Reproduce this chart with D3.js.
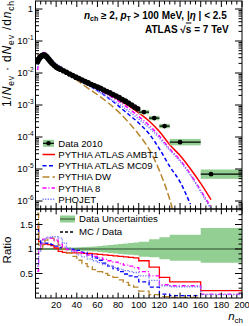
<!DOCTYPE html>
<html><head><meta charset="utf-8">
<script src="https://cdn.jsdelivr.net/npm/d3@7"></script>
<style>body{margin:0;background:#fff}svg{display:block;font-family:"Liberation Sans",Arial,sans-serif}</style>
</head><body>
<script>
// ---------- data ----------
const dataNch = [2,3,4,5,6,7,8,9,10,11,12,13,14,15,16,18,20,22,24,27,30,33,36,39,42,45,48,51,54,57,60,63,66,69,72,75,78,81,84,87,90,93,96,99];
const dataVal = [0.0224,0.0263,0.0295,0.0324,0.0347,0.0355,0.0363,0.0355,0.0339,0.0316,0.0288,0.0263,0.0240,0.0219,0.0200,0.0174,0.0155,0.0141,0.0132,0.0117,0.0105,0.00933,0.00832,0.00741,0.00676,0.00603,0.00537,0.00490,0.00437,0.00398,0.00363,0.00331,0.00295,0.00263,0.00240,0.00214,0.00191,0.00170,0.00148,0.00132,0.00115,0.00100,0.00087,0.00076];
const wideLo  = [100,110,120,130,160];
const wideHi  = [110,120,130,160,200];
const wideNch = [105,115,125,140,170];
const wideVal = [6.0e-4,3.9e-4,2.2e-4,6.9e-5,6.9e-6];
const wideErr = [0.17,0.17,0.17,0.26,0.40];

const mcNch = [2,4,6,8,10,13,16,20,25,30,40,50,60,70,80,90,100,110,120,130,140,150,160,170];
const mcAMBT1 = [3.24e-2,3.39e-2,3.80e-2,3.98e-2,3.72e-2,2.88e-2,2.14e-2,1.58e-2,1.20e-2,9.77e-3,6.46e-3,4.57e-3,3.24e-3,2.24e-3,1.51e-3,9.55e-4,5.62e-4,3.16e-4,1.48e-4,5.75e-5,2.63e-5,1.02e-5,3.55e-6,1.1e-6];
const mcMC09  = [3.39e-2,3.47e-2,3.89e-2,4.07e-2,3.80e-2,2.88e-2,2.19e-2,1.62e-2,1.29e-2,1.05e-2,6.92e-3,4.47e-3,2.82e-3,1.70e-3,9.55e-4,5.13e-4,2.75e-4,1.26e-4,4.27e-5,1.20e-5,3.98e-6,7.9e-7,null,null];
const mcDW    = [3.89e-2,3.24e-2,3.47e-2,3.98e-2,3.98e-2,3.24e-2,2.45e-2,1.78e-2,1.35e-2,1.05e-2,6.03e-3,3.47e-3,2.09e-3,1.20e-3,6.31e-4,2.88e-4,1.20e-4,4.17e-5,8.9e-6,1.12e-6,6e-8,null,null,null];
const mcPY8   = [1.23e-2,2.95e-2,3.89e-2,4.37e-2,4.17e-2,3.24e-2,2.45e-2,1.82e-2,1.38e-2,1.10e-2,6.92e-3,4.68e-3,3.16e-3,2.09e-3,1.35e-3,7.94e-4,4.37e-4,2.34e-4,1.07e-4,4.27e-5,1.91e-5,6.92e-6,2.14e-6,6.3e-7];
const mcPHO   = [1.45e-2,2.82e-2,3.72e-2,4.17e-2,4.07e-2,3.24e-2,2.51e-2,1.95e-2,1.55e-2,1.15e-2,6.76e-3,4.27e-3,2.75e-3,1.74e-3,1.10e-3,6.46e-4,3.63e-4,1.95e-4,9.33e-5,3.89e-5,1.74e-5,6.46e-6,1.95e-6,5.6e-7];

const rEdges = [1.5,3,5,7,9,12,15,18,22,26,30,35,40,45,50,55,60,65,70,75,80,85,90,95,100,110,120,130,160,200];
const rAMBT1 = [1.45,1.15,1.10,1.10,1.10,1.09,1.07,1.02,0.95,0.93,0.92,0.92,0.92,0.91,0.91,0.90,0.89,0.88,0.87,0.86,0.85,0.84,0.83,0.82,0.76,0.63,0.42,0.33,0.15];
const rMC09  = [1.50,1.18,1.12,1.12,1.12,1.11,1.09,1.06,1.03,1.01,1.00,0.99,0.97,0.93,0.88,0.82,0.77,0.71,0.65,0.60,0.54,0.49,0.45,0.43,0.33,0.22,0.08,0.05,null];
const rDW    = [1.73,1.08,1.00,1.08,1.18,1.22,1.22,1.15,1.08,1.00,0.92,0.85,0.77,0.70,0.64,0.58,0.54,0.50,0.46,0.42,0.37,0.32,0.26,0.22,0.14,0.07,0.03,0.01,null];
const rPY8   = [0.55,1.00,1.12,1.20,1.22,1.22,1.22,1.18,1.10,1.04,0.99,0.96,0.93,0.91,0.88,0.85,0.82,0.79,0.76,0.73,0.70,0.67,0.65,0.62,0.54,0.45,0.27,0.25,0.08];
const rPHO   = [0.65,0.95,1.10,1.18,1.22,1.24,1.25,1.25,1.22,1.12,1.02,0.95,0.88,0.84,0.80,0.76,0.72,0.68,0.65,0.62,0.59,0.56,0.54,0.52,0.45,0.36,0.25,0.23,0.07];
const bandHi = [1.03,1.02,1.02,1.02,1.02,1.02,1.02,1.02,1.02,1.025,1.03,1.03,1.035,1.04,1.045,1.05,1.06,1.07,1.08,1.09,1.10,1.11,1.12,1.13,1.15,1.20,1.24,1.29,1.43];
const bandLo = [0.97,0.98,0.98,0.98,0.98,0.98,0.98,0.98,0.98,0.975,0.97,0.97,0.965,0.96,0.955,0.95,0.94,0.93,0.92,0.91,0.90,0.89,0.88,0.87,0.84,0.83,0.79,0.76,0.72];

const xTicks = [20,40,60,80,100,120,140,160,180,200];
const yExp = [0,-1,-2,-3,-4,-5,-6];
const rTicks = [0.5,1,1.5];
const legendNames = ["Data 2010","PYTHIA ATLAS AMBT1","PYTHIA ATLAS MC09","PYTHIA DW","PYTHIA 8","PHOJET"];

// ---------- styles ----------
const series = [
  {up:mcAMBT1, r:rAMBT1, color:"#ff0000", dash:null},
  {up:mcMC09,  r:rMC09,  color:"#0000ff", dash:"4,2.5"},
  {up:mcDW,    r:rDW,    color:"#b8862e", dash:"7,3"},
  {up:mcPY8,   r:rPY8,   color:"#ff00ff", dash:"4,2,1,2"},
  {up:mcPHO,   r:rPHO,   color:"#7b7bff", dash:"1.3,1.3"}
];
const green = "#93cf93";

const W=249,H=326, L=35.5, R=242, T=1, M=209, B=298;
const x = d3.scaleLinear([0,200],[L,R]);
const y = d3.scaleLog([Math.pow(10,-6.25),Math.pow(10,0.25)],[M,T]);
const yr = d3.scaleLinear([0,1.816],[B,M]);

const svg = d3.select("body").append("svg").attr("width",W).attr("height",H);
const defs = svg.append("defs");
defs.append("clipPath").attr("id","cu").append("rect").attr("x",L).attr("y",T).attr("width",R-L).attr("height",M-T);
defs.append("clipPath").attr("id","cl").append("rect").attr("x",L).attr("y",M).attr("width",R-L).attr("height",B-M);

// ---------- upper panel ----------
const gu = svg.append("g").attr("clip-path","url(#cu)");
series.forEach(s=>{
  const pts = mcNch.map((n,i)=>[n,s.up[i]]).filter(d=>d[1]!=null);
  gu.append("path").attr("d", d3.line().x(d=>x(d[0])).y(d=>y(d[1])).curve(d3.curveMonotoneX)(pts))
    .attr("fill","none").attr("stroke",s.color).attr("stroke-width",1.5)
    .attr("stroke-dasharray",s.dash);
});
wideNch.forEach((n,i)=>{
  const v=wideVal[i], f=1+wideErr[i];
  gu.append("rect").attr("x",x(wideLo[i])).attr("width",x(wideHi[i])-x(wideLo[i]))
    .attr("y",y(v*f)).attr("height",y(v/f)-y(v*f)).attr("fill",green);
  gu.append("line").attr("x1",x(wideLo[i])).attr("x2",x(wideHi[i])).attr("y1",y(v)).attr("y2",y(v))
    .attr("stroke","#000").attr("stroke-width",1.2);
  gu.append("circle").attr("cx",x(n)).attr("cy",y(v)).attr("r",2.4).attr("fill","#000");
});
dataNch.forEach((n,i)=>{
  gu.append("circle").attr("cx",x(n)).attr("cy",y(dataVal[i])).attr("r",2.8).attr("fill","#000");
});

// ---------- lower panel ----------
const gl = svg.append("g").attr("clip-path","url(#cl)");
function stepPts(vals){
  const p=[];
  vals.forEach((v,i)=>{ if(v==null){p.push(null);return;} p.push([rEdges[i],v]); p.push([rEdges[i+1],v]); });
  return p;
}
const bandPts = [];
bandHi.forEach((v,i)=>{bandPts.push({x:rEdges[i],hi:v,lo:bandLo[i]});bandPts.push({x:rEdges[i+1],hi:v,lo:bandLo[i]});});
gl.append("path").attr("d", d3.area().x(d=>x(d.x)).y0(d=>yr(d.lo)).y1(d=>yr(d.hi))(bandPts)).attr("fill",green);
gl.append("line").attr("x1",x(rEdges[0])).attr("x2",R).attr("y1",yr(1)).attr("y2",yr(1)).attr("stroke","#2f4f2f").attr("stroke-width",1);
series.forEach(s=>{
  const p = stepPts(s.r);
  gl.append("path").attr("d", d3.line().defined(d=>d!=null).x(d=>x(d[0])).y(d=>yr(d[1]))(p))
    .attr("fill","none").attr("stroke",s.color).attr("stroke-width",1.3)
    .attr("stroke-dasharray",s.dash);
});

// ---------- frames & ticks ----------
const ax = svg.append("g").attr("stroke","#000").attr("stroke-width",1).attr("fill","none");
ax.append("rect").attr("x",L).attr("y",T).attr("width",R-L).attr("height",M-T);
ax.append("rect").attr("x",L).attr("y",M).attr("width",R-L).attr("height",B-M);
function tick(x1,y1,x2,y2){ax.append("line").attr("x1",x1).attr("y1",y1).attr("x2",x2).attr("y2",y2);}
d3.range(0,201,5).forEach(v=>{
  const len = v%20===0?6:3.5, px=x(v);
  tick(px,T,px,T+len); tick(px,M,px,M-len);
  tick(px,M,px,M+len*0.9); tick(px,B,px,B-len*0.9);
});
yExp.forEach(e=>{
  const py=y(Math.pow(10,e));
  tick(L,py,L+7,py); tick(R,py,R-7,py);
});
for(let e=-7;e<=0;e++) for(let k=2;k<=9;k++){
  const v=k*Math.pow(10,e); if(v<y.domain()[0]||v>y.domain()[1]) continue;
  const py=y(v); tick(L,py,L+3.5,py); tick(R,py,R-3.5,py);
}
d3.range(0.1,1.81,0.1).forEach(v=>{
  const major = Math.abs(v*2-Math.round(v*2))<1e-6;
  const len = major?7:3.5, py=yr(v);
  tick(L,py,L+len,py); tick(R,py,R-len,py);
});

// ---------- tick labels ----------
const fs = 9.4;
const tl = svg.append("g").attr("font-size",fs).attr("fill","#000");
xTicks.forEach(v=>tl.append("text").attr("x",x(v)).attr("y",307.5).attr("text-anchor","middle").text(v));
yExp.forEach(e=>{
  const py=y(Math.pow(10,e));
  if(e===0){tl.append("text").attr("x",33).attr("y",py+3.4).attr("text-anchor","end").text("1");return;}
  const t=tl.append("text").attr("x",33.5).attr("y",py+3.4).attr("text-anchor","end");
  t.append("tspan").text("10");
  t.append("tspan").attr("dy",-4).attr("font-size",6.5).text(String(e));
});
rTicks.forEach(v=>tl.append("text").attr("x",33).attr("y",yr(v)+3.4).attr("text-anchor","end").text(v));

// ---------- axis titles ----------
function richText(sel, parts, subSize, subDy){
  let shift=0;
  parts.forEach(([s,k])=>{
    const ts=sel.append("tspan").text(s);
    if(k===2){ ts.attr("font-size",subSize).attr("dy",subDy-shift); shift=subDy; }
    else { if(shift){ts.attr("dy",-shift); shift=0;} if(k===1) ts.attr("font-style","italic"); }
  });
}
const yt = svg.append("text").attr("transform","translate(10.5,1) rotate(-90)").attr("text-anchor","end")
  .attr("font-size",12).attr("textLength",106).attr("lengthAdjust","spacing");
richText(yt, [["1/",0],["N",1],["ev",2],[" \u00b7 d",0],["N",1],["ev",2],[" /d",0],["n",1],["ch",2]], 8.5, 3);
svg.append("text").attr("transform","translate(10.5,250) rotate(-90)").attr("text-anchor","middle").attr("font-size",11.5).text("Ratio");
const xt = svg.append("text").attr("x",243).attr("y",320).attr("text-anchor","end").attr("font-size",11.5);
richText(xt, [["n",1],["ch",2]], 8, 2.5);

// ---------- header ----------
const h1 = svg.append("text").attr("x",84).attr("y",18.5).attr("font-size",10).attr("font-weight","bold");
richText(h1, [["n",1],["ch",2],[" \u2265 2, ",0],["p",1],["T",2],[" > 100 MeV, |",0],["\u03b7",1],[" | < 2.5",0]], 7, 2);
const h2 = svg.append("text").attr("x",145).attr("y",32.5).attr("font-size",10).attr("font-weight","bold");
h2.append("tspan").text("ATLAS \u221a");
h2.append("tspan").attr("text-decoration","overline").text("s");
h2.append("tspan").text(" = 7 TeV");

// ---------- upper legend ----------
const lg = svg.append("g").attr("font-size",9.6);
const ly0 = 143.3, ldy = 11.2;
legendNames.forEach((name,i)=>{
  const yy = ly0 + i*ldy;
  if(i===0){
    lg.append("rect").attr("x",43).attr("y",yy-3.5).attr("width",11).attr("height",7).attr("fill",green);
    lg.append("line").attr("x1",43).attr("x2",54).attr("y1",yy).attr("y2",yy).attr("stroke","#000").attr("stroke-width",1.2);
    lg.append("circle").attr("cx",48.5).attr("cy",yy).attr("r",2.3).attr("fill","#000");
  } else {
    const s = series[i-1];
    lg.append("line").attr("x1",42.5).attr("x2",55).attr("y1",yy).attr("y2",yy)
      .attr("stroke",s.color).attr("stroke-width",1.5).attr("stroke-dasharray",s.dash);
  }
  lg.append("text").attr("x",58.3).attr("y",yy+3.4).text(name);
});

// ---------- lower legend ----------
const l2 = svg.append("g").attr("font-size",9.6);
l2.append("rect").attr("x",60).attr("y",215.5).attr("width",15).attr("height",7).attr("fill",green);
l2.append("line").attr("x1",60).attr("x2",75).attr("y1",219).attr("y2",219).attr("stroke","#2f4f2f");
l2.append("text").attr("x",79).attr("y",222.4).text("Data Uncertainties");
l2.append("line").attr("x1",60).attr("x2",75).attr("y1",232).attr("y2",232).attr("stroke","#000").attr("stroke-width",1.5).attr("stroke-dasharray","3,2");
l2.append("text").attr("x",79).attr("y",235.4).text("MC / Data");
</script>
</body></html>
